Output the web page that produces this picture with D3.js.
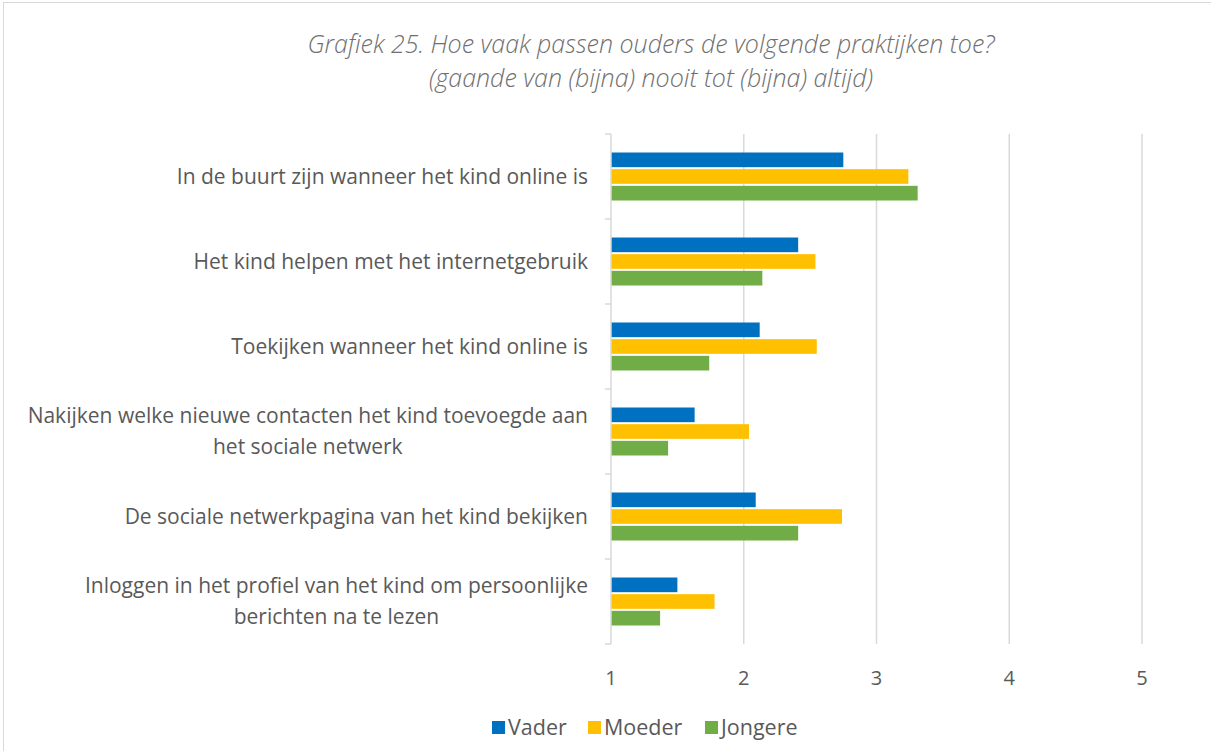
<!DOCTYPE html>
<html>
<head>
<meta charset="utf-8">
<script src="https://cdn.jsdelivr.net/npm/d3@7"></script>
<style>
  body { margin: 0; background: #fff; }
  text { font-family: "Open Sans", sans-serif; fill: #595959; }
</style>
</head>
<body>
<script>
const categories = [
    ["In de buurt zijn wanneer het kind online is"],
    ["Het kind helpen met het internetgebruik"],
    ["Toekijken wanneer het kind online is"],
    ["Nakijken welke nieuwe contacten het kind toevoegde aan", "het sociale netwerk"],
    ["De sociale netwerkpagina van het kind bekijken"],
    ["Inloggen in het profiel van het kind om persoonlijke", "berichten na te lezen"]
];
const seriesNames = ["Vader", "Moeder", "Jongere"];
const vader = [2.75, 2.41, 2.12, 1.63, 2.09, 1.50];
const moeder = [3.24, 2.54, 2.55, 2.04, 2.74, 1.78];
const jongere = [3.31, 2.14, 1.74, 1.43, 2.41, 1.37];
const xTicks = [1, 2, 3, 4, 5];
const titleLines = [
    "Grafiek 25. Hoe vaak passen ouders de volgende praktijken toe?",
    "(gaande van (bijna) nooit tot (bijna) altijd)"
];

const colors = ["#0070c0", "#ffc000", "#70ad47"];
const seriesValues = [vader, moeder, jongere];

const width = 1211;
const height = 751;
const margin = { top: 134, right: 69, bottom: 107, left: 611 };

const svg = d3.select("body").append("svg")
    .attr("width", width)
    .attr("height", height);

// chart border
svg.append("rect")
    .attr("x", 3.5).attr("y", 2.5)
    .attr("width", width + 10).attr("height", height + 10)
    .attr("fill", "none")
    .attr("stroke", "#d9d9d9");

const x = d3.scaleLinear()
    .domain([1, 5])
    .range([margin.left, width - margin.right]);

const y = d3.scaleBand()
    .domain(d3.range(categories.length))
    .range([margin.top, height - margin.bottom]);

const inner = d3.scaleBand()
    .domain(d3.range(seriesNames.length))
    .range([18.5, y.bandwidth() - 18.5])
    .paddingInner(0.12);

// gridlines
svg.append("g")
    .selectAll("line")
    .data(xTicks.slice(1))
    .join("line")
    .attr("x1", d => x(d)).attr("x2", d => x(d))
    .attr("y1", margin.top).attr("y2", height - margin.bottom)
    .attr("stroke", "#d9d9d9")
    .attr("stroke-width", 1.5);

// bars
const groups = svg.append("g")
    .selectAll("g")
    .data(categories.map((c, i) => i))
    .join("g")
    .attr("transform", i => `translate(0, ${y(i)})`);

groups.selectAll("rect")
    .data(i => seriesValues.map((s, k) => ({ k: k, v: s[i] })))
    .join("rect")
    .attr("x", x(1))
    .attr("y", d => inner(d.k))
    .attr("width", d => x(d.v) - x(1))
    .attr("height", inner.bandwidth())
    .attr("fill", d => colors[d.k]);

// vertical axis with ticks between categories
const axisG = svg.append("g");
axisG.append("line")
    .attr("x1", x(1)).attr("x2", x(1))
    .attr("y1", margin.top).attr("y2", height - margin.bottom)
    .attr("stroke", "#d9d9d9")
    .attr("stroke-width", 1.5);
axisG.selectAll(".tk")
    .data(d3.range(categories.length + 1))
    .join("line")
    .attr("class", "tk")
    .attr("x1", x(1) - 6).attr("x2", x(1))
    .attr("y1", i => margin.top + i * y.step())
    .attr("y2", i => margin.top + i * y.step())
    .attr("stroke", "#d9d9d9")
    .attr("stroke-width", 1.5);

// category labels
const labelRight = 588;
categories.forEach((lines, i) => {
    const cy = y(i) + y.bandwidth() / 2;
    const t = svg.append("text")
        .attr("text-anchor", "middle")
        .style("font-size", "21px");
    lines.forEach((ln, j) => {
        t.append("tspan")
            .attr("y", cy + (j - (lines.length - 1) / 2) * 31 + 7)
            .text(ln);
    });
    const widths = [];
    t.selectAll("tspan").each(function() { widths.push(this.getComputedTextLength()); });
    const maxW = d3.max(widths);
    t.selectAll("tspan").attr("x", labelRight - maxW / 2);
});

// x tick labels
svg.append("g")
    .selectAll("text")
    .data(xTicks)
    .join("text")
    .attr("x", d => x(d))
    .attr("y", 685)
    .attr("text-anchor", "middle")
    .style("font-size", "20px")
    .text(d => d);

// title
svg.append("g")
    .selectAll("text")
    .data(titleLines)
    .join("text")
    .attr("x", 651)
    .attr("y", (d, i) => 53 + i * 34)
    .attr("text-anchor", "middle")
    .style("font-size", "25px")
    .style("font-style", "italic")
    .style("font-weight", 300)
    .style("fill", "#707070")
    .text(d => d);

// legend
const legendX = [492, 588, 705];
const legend = svg.append("g")
    .selectAll("g")
    .data(seriesNames)
    .join("g")
    .attr("transform", (d, i) => `translate(${legendX[i]}, 721)`);
legend.append("rect")
    .attr("width", 13).attr("height", 13)
    .attr("fill", (d, i) => colors[i]);
legend.append("text")
    .attr("x", 16).attr("y", 14)
    .style("font-size", "21.5px")
    .text(d => d);
</script>
</body>
</html>
